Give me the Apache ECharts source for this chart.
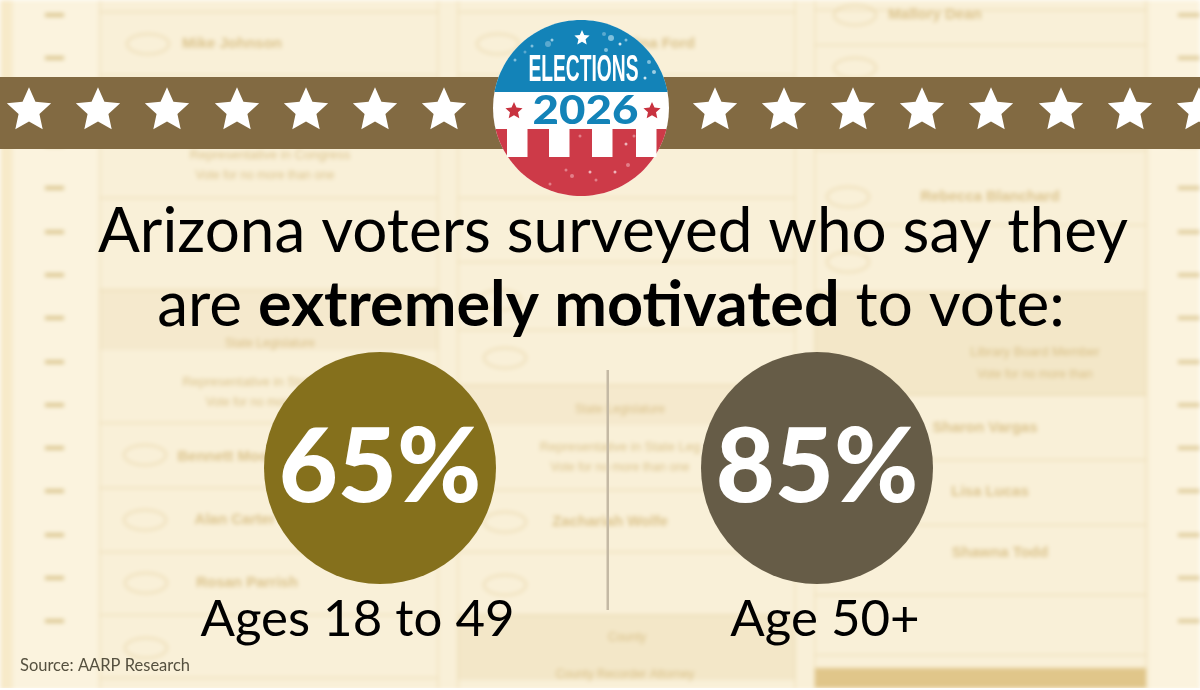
<!DOCTYPE html>
<html>
<head>
<meta charset="utf-8">
<title>Arizona voters</title>
<style>
  html, body { margin: 0; padding: 0; background: #fff; }
  #ballot, #main { position: absolute; left: 0; top: 0; width: 1200px; height: 690px; }
  #ballot { filter: blur(2.2px); overflow: hidden; }
</style>
<script src="https://cdn.jsdelivr.net/npm/echarts@6/dist/echarts.min.js"></script>
</head>
<body>
<div id="ballot"></div>
<div id="main"></div>
<script>
var categories = ['Ages 18 to 49', 'Age 50+']
var percentValues = [65, 85]
var circleColors = ['#85701c', '#665c47']

var titleLine1 = 'Arizona voters surveyed who say they'
var titleLine2 = ['are ', 'extremely motivated', ' to vote:']
var sourceText = 'Source: AARP Research'

var leftStars = [29, 98, 167, 237, 306, 375, 444]
var rightStars = [715, 784, 853, 922, 991, 1061, 1130, 1199]

// faded ballot behind everything
var ballotTicks = [15, 58, 102, 145, 188, 232, 275, 318, 362, 405, 448, 491, 535, 578, 621]
var ballotColumns = [[100, 438], [458, 795], [815, 1146]]
var ballotRules = [
  [0, 12], [0, 75], [0, 140], [0, 198], [0, 290], [0, 423], [0, 488], [0, 552], [0, 615], [0, 678],
  [1, 12], [1, 75], [1, 135], [1, 198], [1, 262], [1, 330], [1, 385], [1, 490], [1, 552], [1, 615],
  [2, 10], [2, 45], [2, 150], [2, 225], [2, 292], [2, 395], [2, 460], [2, 525], [2, 595], [2, 655]
]
var ballotShades = [[0, 290, 60, 0.1], [1, 385, 40, 0.1], [1, 615, 65, 0.14], [2, 292, 103, 0.14], [2, 668, 20, 0.7]]
var ballotOvals = [
  [148, 44], [148, 105], [145, 455], [145, 520], [146, 583], [146, 648],
  [498, 44], [498, 105], [500, 300], [505, 358], [505, 522], [505, 585],
  [855, 15], [855, 68], [848, 197], [848, 262]
]
var ballotWords = [
  ['Mike Johnson', 232, 44, 15, 700], ['Representative in Congress', 270, 155, 13, 400], ['Vote for no more than one', 265, 176, 12, 400],
  ['State Legislature', 270, 344, 12, 400], ['Representative in State', 250, 382, 13, 400], ['Vote for no more', 250, 403, 12, 400],
  ['Bennett Moore', 230, 457, 15, 700], ['Alan Carter', 235, 520, 15, 700], ['Rosan Parrish', 247, 583, 15, 700],
  ['Nina Ford', 660, 44, 15, 700], ['State Legislature', 620, 410, 12, 400], ['Representative in State Leg', 620, 447, 13, 400],
  ['Vote for no more than one', 620, 468, 12, 400], ['Zachariah Wolfe', 610, 522, 15, 700], ['County', 627, 638, 12, 400],
  ['County Recorder Attorney', 625, 675, 12, 400],
  ['Mallory Dean', 935, 15, 15, 700], ['Rebecca Blanchard', 990, 197, 15, 700], ['Library Board Member', 1035, 352, 13, 400],
  ['Vote for no more than', 1035, 375, 12, 400], ['Sharon Vargas', 985, 428, 15, 700], ['Lisa Lucas', 990, 492, 15, 700], ['Shawna Todd', 1000, 553, 15, 700]
]

// worn spots on the button
var badgeSpecks = [
  [548, 44, 3, '#5aa9cf'], [552, 40, 1.5, '#9ccde3'], [604, 34, 2, '#5aa9cf'], [611, 38, 3, '#7fc0dd'], [620, 44, 1.5, '#cfe6f0'],
  [626, 40, 1.5, '#7fc0dd'], [606, 50, 2, '#7fc0dd'], [649, 62, 2, '#7fc0dd'], [654, 72, 2, '#9ccde3'], [645, 78, 1.5, '#cfe6f0'],
  [525, 52, 1.5, '#5aa9cf'], [515, 60, 1.5, '#7fc0dd'], [532, 46, 1.5, '#7fc0dd'], [600, 76, 2, '#5aa9cf'],
  [566, 170, 1.5, '#e27f89'], [572, 176, 2, '#e27f89'], [590, 172, 1.5, '#eeb4b9'], [596, 180, 1.5, '#e27f89'], [628, 165, 2, '#e27f89'],
  [634, 136, 1.5, '#e27f89'], [626, 144, 1.5, '#eeb4b9'], [580, 136, 1.5, '#e27f89'], [615, 172, 1.5, '#eeb4b9'], [550, 184, 1.5, '#e27f89']
]

function starPoints(cx, cy, r) {
  var pts = []
  for (var i = 0; i < 10; i++) {
    var rad = i % 2 ? r * 0.47 : r
    var a = -Math.PI / 2 + i * Math.PI / 5
    pts.push([cx + rad * Math.cos(a), cy + rad * Math.sin(a)])
  }
  return pts
}

function star(cx, cy, r, color) {
  return { type: 'polygon', shape: { points: starPoints(cx, cy, r) }, style: { fill: color } }
}

// part of the button above (dir -1) or below (dir 1) a horizontal cut
function capPoints(cx, cy, r, cutY, dir) {
  var a0 = Math.asin((cutY - cy) / r)
  var a1 = dir < 0 ? -Math.PI - a0 : Math.PI - a0
  var pts = []
  for (var i = 0; i <= 60; i++) {
    var a = a0 + (a1 - a0) * i / 60
    pts.push([cx + r * Math.cos(a), cy + r * Math.sin(a)])
  }
  return pts
}

function ballotGraphic() {
  var els = [
    { type: 'rect', shape: { x: -10, y: -10, width: 1220, height: 710 }, style: { fill: '#f9f0d8' } },
    { type: 'rect', shape: { x: -10, y: -10, width: 22, height: 710 }, style: { fill: '#f7eac9' } },
    { type: 'rect', shape: { x: 14, y: -10, width: 84, height: 710 }, style: { fill: '#fbf3de' } },
    { type: 'rect', shape: { x: 1150, y: -10, width: 60, height: 710 }, style: { fill: '#fbf3de' } }
  ]
  ballotColumns.forEach(function (c) {
    els.push({ type: 'rect', shape: { x: c[0], y: -10, width: c[1] - c[0], height: 710 }, style: { fill: 'transparent', stroke: 'rgba(226,205,150,0.3)', lineWidth: 2 } })
  })
  ballotShades.forEach(function (s) {
    var c = ballotColumns[s[0]]
    els.push({ type: 'rect', shape: { x: c[0], y: s[1], width: c[1] - c[0], height: s[2] }, style: { fill: 'rgba(214,180,105,' + s[3] + ')' } })
  })
  ballotRules.forEach(function (l) {
    var c = ballotColumns[l[0]]
    els.push({ type: 'line', shape: { x1: c[0], y1: l[1], x2: c[1], y2: l[1] }, style: { stroke: 'rgba(222,198,140,0.3)', lineWidth: 2 } })
  })
  ballotTicks.forEach(function (y) {
    els.push({ type: 'rect', shape: { x: 45, y: y - 2, width: 19, height: 4 }, style: { fill: '#dcc893' } })
    els.push({ type: 'rect', shape: { x: 1178, y: y - 2, width: 24, height: 4 }, style: { fill: '#e0cd9d' } })
  })
  ballotOvals.forEach(function (o) {
    els.push({ type: 'ellipse', shape: { cx: o[0], cy: o[1], rx: 21, ry: 10 }, style: { fill: 'transparent', stroke: 'rgba(222,198,140,0.45)', lineWidth: 2 } })
  })
  ballotWords.forEach(function (w) {
    els.push({
      type: 'text', x: w[1], y: w[2],
      style: {
        text: w[0], fill: 'rgba(198,165,90,0.6)', align: 'center', verticalAlign: 'middle',
        font: w[4] + ' ' + w[3] + 'px "Liberation Sans"'
      }
    })
  })
  return els
}

function badgeGraphic() {
  var cx = 581, cy = 108, r = 88
  var blue = '#1383b8', red = '#cd3a48'
  var els = [
    { type: 'circle', shape: { cx: cx, cy: cy, r: r }, style: { fill: '#fff' } },
    { type: 'polygon', shape: { points: capPoints(cx, cy, r, 92, -1) }, style: { fill: blue } },
    { type: 'polygon', shape: { points: capPoints(cx, cy, r, 129, 1) }, style: { fill: red } }
  ]
  var bars = [507, 549, 592, 636]
  bars.forEach(function (x) {
    els.push({ type: 'rect', shape: { x: x, y: 129, width: 20.5, height: 28 }, style: { fill: '#fff' } })
  })
  badgeSpecks.forEach(function (s) {
    els.push({ type: 'circle', shape: { cx: s[0], cy: s[1], r: s[2] }, style: { fill: s[3] } })
  })
  els.push(star(582, 38, 8, '#fff'))
  els.push(star(514, 111, 9, '#c8323f'))
  els.push(star(652, 111, 9, '#c8323f'))
  els.push({
    type: 'text', x: 583.5, y: 71, scaleX: 0.52,
    style: { text: 'ELECTIONS', fill: '#fff', align: 'center', verticalAlign: 'middle', font: '700 37px "Liberation Sans"' }
  })
  els.push({
    type: 'text', x: 585.5, y: 111, scaleX: 1.14,
    style: { text: '2026', fill: blue, align: 'center', verticalAlign: 'middle', font: '900 40px Lato' }
  })
  return els
}

function pageGraphic() {
  var els = [{ type: 'rect', shape: { x: 0, y: 77, width: 1200, height: 72 }, style: { fill: '#826a42' } }]
  leftStars.concat(rightStars).forEach(function (x) {
    els.push(star(x, 110.5, 23.3, '#fff'))
  })
  els = els.concat(badgeGraphic())
  els.push({
    type: 'text', x: 613, y: 201,
    style: { text: titleLine1, fill: '#000', align: 'center', verticalAlign: 'top', font: '400 62px Lato' }
  })
  els.push({
    type: 'text', x: 611, y: 274,
    style: {
      text: '{n|' + titleLine2[0] + '}{b|' + titleLine2[1] + '}{n|' + titleLine2[2] + '}',
      align: 'center', verticalAlign: 'top',
      rich: {
        n: { fill: '#000', font: '400 62px Lato' },
        b: { fill: '#000', font: '700 63px Lato' }
      }
    }
  })
  els.push({ type: 'rect', shape: { x: 606.5, y: 370, width: 2.5, height: 240 }, style: { fill: '#c4b9a4' } })
  var labelX = [357.5, 825]
  categories.forEach(function (name, i) {
    els.push({
      type: 'text', x: labelX[i], y: 594,
      style: { text: name, fill: '#000', align: 'center', verticalAlign: 'top', font: '400 51px Lato' }
    })
  })
  els.push({
    type: 'text', x: 20, y: 657,
    style: { text: sourceText, fill: '#55503f', align: 'left', verticalAlign: 'top', font: '400 16.5px Lato' }
  })
  els.push({ type: 'rect', shape: { x: 0, y: 688, width: 1200, height: 2 }, style: { fill: '#fff' } })
  return els
}

var ballotChart = echarts.init(document.getElementById('ballot'))
ballotChart.setOption({ animation: false, graphic: { elements: ballotGraphic() } })

var myChart = echarts.init(document.getElementById('main'))
myChart.setOption({
  animation: false,
  backgroundColor: 'transparent',
  graphic: { elements: pageGraphic() },
  // two bands 437 wide put the circles at x=380 and x=817
  grid: { left: 161.5, width: 874, top: 346, height: 244 },
  xAxis: { type: 'category', data: categories, show: false },
  yAxis: { type: 'category', data: ['extremely motivated'], show: false },
  series: [{
    type: 'scatter',
    symbol: 'circle',
    symbolSize: 232,
    silent: true,
    z: 5,
    data: percentValues.map(function (v, i) {
      return { value: [categories[i], 0], pct: v, itemStyle: { color: circleColors[i], opacity: 1 } }
    }),
    label: {
      show: true,
      position: 'inside',
      offset: [0, 1],
      formatter: function (p) { return p.data.pct + '%' },
      color: '#fff',
      fontFamily: 'Lato',
      fontWeight: 900,
      fontSize: 102
    }
  }]
})
</script>
</body>
</html>
